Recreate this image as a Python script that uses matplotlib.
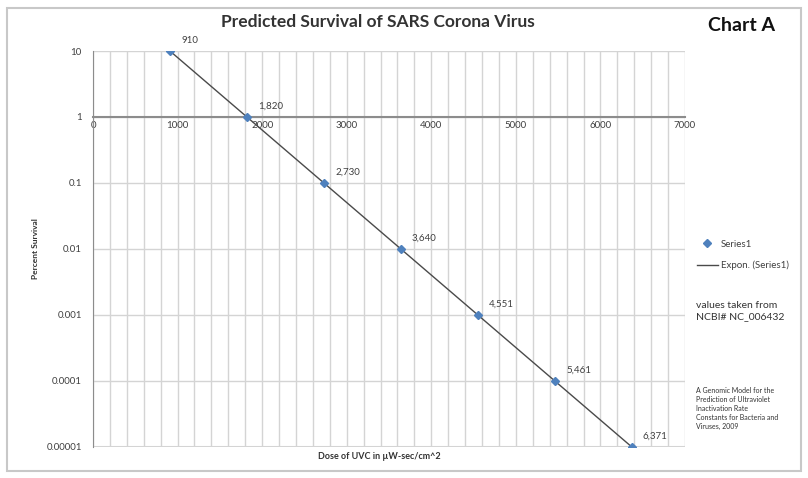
#!/usr/bin/env python3
"""Predicted survival of SARS corona virus vs UVC dose (log scale)."""

import matplotlib.pyplot as plt
from matplotlib.patches import Rectangle
import numpy as np

plt.rcParams['font.family'] = ['Lato', 'DejaVu Sans']

# data
dose = [910, 1820, 2730, 3640, 4551, 5461, 6371]
survival = [10, 1, 0.1, 0.01, 0.001, 0.0001, 0.00001]
y_ticks = [10, 1, 0.1, 0.01, 0.001, 0.0001, 0.00001]
y_labels = ['10', '1', '0.1', '0.01', '0.001', '0.0001', '0.00001']
x_ticks = [0, 1000, 2000, 3000, 4000, 5000, 6000, 7000]

COLORS = {
    'marker': '#4F81BD',
    'trend': '#4a4a4a',
    'grid': '#d4d4d4',
    'axis': '#8c8c8c',
    'text': '#404040',
}

fig = plt.figure(figsize=(8.08, 4.78), dpi=100)
ax = fig.add_axes([0.1151, 0.0649, 0.7327, 0.8284])

# exponential trendline fitted to the series
coef = np.polyfit(dose, np.log(survival), 1)
xs = np.array([dose[0], dose[-1]])
ax.plot(xs, np.exp(np.polyval(coef, xs)), color=COLORS['trend'], lw=1.0, zorder=3,
        label='Expon. (Series1)')
ax.plot(dose, survival, linestyle='none', marker='D', markersize=4,
        color=COLORS['marker'], zorder=4, label='Series1')

for x, y in zip(dose, survival):
    ax.annotate(f'{x:,}', (x, y), xytext=(8, 6), textcoords='offset points',
                fontsize=7, color=COLORS['text'])

ax.set_yscale('log')
ax.set_ylim(0.00001, 10)
ax.set_xlim(0, 7000)
ax.set_yticks(y_ticks)
ax.set_yticklabels(y_labels)
ax.yaxis.set_minor_locator(plt.NullLocator())
ax.set_xticks(x_ticks)
ax.set_xticks(np.arange(0, 7001, 200), minor=True)

ax.grid(True, which='major', color=COLORS['grid'], lw=1.0)
ax.grid(True, which='minor', axis='x', color=COLORS['grid'], lw=1.0)
ax.set_axisbelow(True)

# x axis crosses at 1
ax.spines['bottom'].set_position(('data', 1))
ax.spines['bottom'].set_color(COLORS['axis'])
ax.spines['bottom'].set_linewidth(1.5)
ax.spines['bottom'].set_zorder(2)
ax.spines['left'].set_color(COLORS['axis'])
ax.spines['top'].set_visible(False)
ax.spines['right'].set_visible(False)
ax.tick_params(axis='both', which='both', length=0, labelsize=7,
               labelcolor=COLORS['text'])
ax.tick_params(axis='x', pad=3)
ax.tick_params(axis='y', pad=8)
ax.axhline(0.00001, color=COLORS['grid'], lw=1.5, zorder=1)

fig.text(0.468, 0.953, 'Predicted Survival of SARS Corona Virus', ha='center',
         va='center', fontsize=12.5, fontweight='bold', color='#333333')
fig.text(0.918, 0.947, 'Chart A', ha='center', va='center', fontsize=14,
         fontweight='bold', color='#111111')
fig.text(0.044, 0.48, 'Percent Survival', rotation=90, ha='center', va='center',
         fontsize=6, fontweight='bold', color='#333333')
fig.text(0.47, 0.044, 'Dose of UVC in µW-sec/cm^2', ha='center', va='center',
         fontsize=6.5, fontweight='bold', color='#333333')

ax.legend(handles=ax.get_legend_handles_labels()[0][::-1], loc='center left',
          bbox_to_anchor=(1.005, 0.485), frameon=False, fontsize=7,
          labelcolor=COLORS['text'], handlelength=2.2, handletextpad=0.3,
          labelspacing=1.2)

fig.text(0.861, 0.35, 'values taken from\nNCBI# NC_006432', ha='left', va='center',
         fontsize=7.5, color='#333333', linespacing=1.3)
fig.text(0.861, 0.145, 'A Genomic Model for the\nPrediction of Ultraviolet\n'
         'Inactivation Rate\nConstants for Bacteria and\nViruses, 2009',
         ha='left', va='center', fontsize=5, color='#333333', linespacing=1.35)

fig.patches.append(Rectangle((0.009, 0.015), 0.982, 0.968, transform=fig.transFigure,
                             fill=False, edgecolor='#c8c8c8', lw=1.5))

fig.savefig('out.png', dpi=100, facecolor='white')
